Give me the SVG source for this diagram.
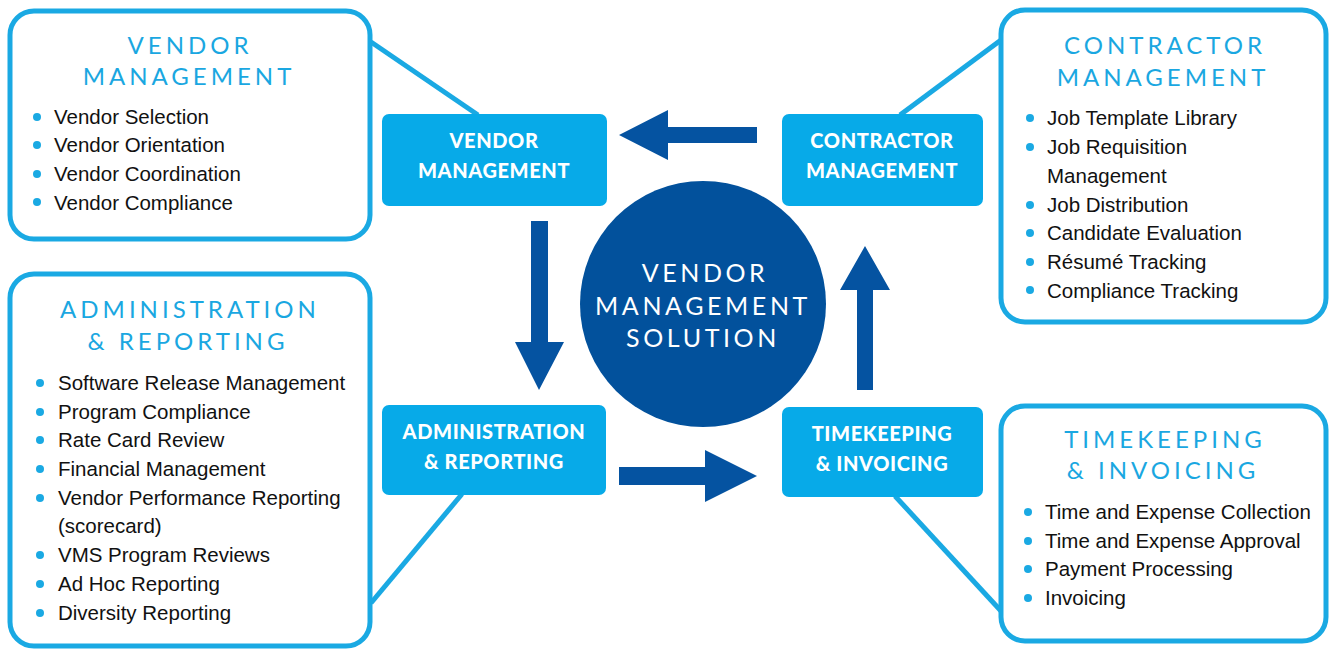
<svg xmlns="http://www.w3.org/2000/svg" width="1330" height="650" viewBox="0 0 1330 650">
<style>
.outer{fill:#fff;stroke:#1aa9e3;stroke-width:5}
.conn{stroke:#1aa9e3;stroke-width:5;fill:none}
.small{fill:#07aae8}
.arrow{fill:#0553a1}
.title{font-family:Lato,"Open Sans",sans-serif;font-size:24px;fill:#1aa7e1;letter-spacing:4px;text-anchor:middle}
.item{font-family:"Liberation Sans",Arial,sans-serif;font-size:20.5px;fill:#111}
.bul{fill:#1aa9e3}
.slab{font-family:Lato,"Open Sans",sans-serif;font-weight:900;font-size:20px;fill:#fff;text-anchor:middle;letter-spacing:0.6px}
.clab{font-family:Lato,"Open Sans",sans-serif;font-size:25px;fill:#fff;text-anchor:middle;letter-spacing:3.6px}
</style>
<g id="connectors">
<line class="conn" x1="371" y1="42" x2="478" y2="115"/>
<line class="conn" x1="1001" y1="40" x2="900" y2="115"/>
<line class="conn" x1="462" y1="494" x2="371" y2="603"/>
<line class="conn" x1="895" y1="496" x2="1001" y2="611"/>
<polygon class="arrow" points="757,127 668,127 668,110 619,135 668,160 668,143 757,143"/>
<polygon class="arrow" points="531,221 548,221 548,342 564,342 539,390 515,342 531,342"/>
<polygon class="arrow" points="619,467 705,467 705,450 757,476 705,502 705,485 619,485"/>
<polygon class="arrow" points="857,390 873,390 873,290 890,290 865,246 840,290 857,290"/>
</g>
<g id="center">
<circle cx="703" cy="304" r="123" fill="#02519c"/>
<text class="clab" x="705" y="282">VENDOR</text>
<text class="clab" x="703" y="315">MANAGEMENT</text>
<text class="clab" x="703" y="347">SOLUTION</text>
</g>
<g id="vm-small">
<rect class="small" x="382" y="114" width="225" height="92" rx="7"/>
<text class="slab" x="494" y="148">VENDOR</text>
<text class="slab" x="494" y="178">MANAGEMENT</text>
</g>
<g id="cm-small">
<rect class="small" x="782" y="114" width="201" height="92" rx="7"/>
<text class="slab" x="882" y="148">CONTRACTOR</text>
<text class="slab" x="882" y="178">MANAGEMENT</text>
</g>
<g id="ar-small">
<rect class="small" x="382" y="405" width="224" height="90" rx="7"/>
<text class="slab" x="494" y="439">ADMINISTRATION</text>
<text class="slab" x="494" y="469">&amp; REPORTING</text>
</g>
<g id="tk-small">
<rect class="small" x="782" y="407" width="201" height="90" rx="7"/>
<text class="slab" x="882" y="441">TIMEKEEPING</text>
<text class="slab" x="882" y="471">&amp; INVOICING</text>
</g>
<g id="vm-detail">
<rect class="outer" x="10" y="11" width="360" height="228" rx="24"/>
<text class="title" x="190" y="54">VENDOR</text>
<text class="title" x="189" y="85">MANAGEMENT</text>
<circle class="bul" cx="37" cy="117" r="4"/><text class="item" x="54" y="124">Vendor Selection</text>
<circle class="bul" cx="37" cy="145" r="4"/><text class="item" x="54" y="152">Vendor Orientation</text>
<circle class="bul" cx="37" cy="174" r="4"/><text class="item" x="54" y="181">Vendor Coordination</text>
<circle class="bul" cx="37" cy="202" r="4"/><text class="item" x="54" y="210">Vendor Compliance</text>
</g>
<g id="cm-detail">
<rect class="outer" x="1001" y="10" width="325" height="312" rx="24"/>
<text class="title" x="1165" y="54">CONTRACTOR</text>
<text class="title" x="1163" y="86">MANAGEMENT</text>
<circle class="bul" cx="1030" cy="118" r="4"/><text class="item" x="1047" y="125">Job Template Library</text>
<circle class="bul" cx="1030" cy="147" r="4"/><text class="item" x="1047" y="154">Job Requisition</text>
<text class="item" x="1047" y="183">Management</text>
<circle class="bul" cx="1030" cy="205" r="4"/><text class="item" x="1047" y="212">Job Distribution</text>
<circle class="bul" cx="1030" cy="233" r="4"/><text class="item" x="1047" y="240">Candidate Evaluation</text>
<circle class="bul" cx="1030" cy="262" r="4"/><text class="item" x="1047" y="269">Résumé Tracking</text>
<circle class="bul" cx="1030" cy="290" r="4"/><text class="item" x="1047" y="298">Compliance Tracking</text>
</g>
<g id="ar-detail">
<rect class="outer" x="10" y="274" width="360" height="372" rx="24"/>
<text class="title" x="190" y="318">ADMINISTRATION</text>
<text class="title" x="188" y="350">&amp; REPORTING</text>
<circle class="bul" cx="40" cy="383" r="4"/><text class="item" x="58" y="390">Software Release Management</text>
<circle class="bul" cx="40" cy="412" r="4"/><text class="item" x="58" y="419">Program Compliance</text>
<circle class="bul" cx="40" cy="440" r="4"/><text class="item" x="58" y="447">Rate Card Review</text>
<circle class="bul" cx="40" cy="469" r="4"/><text class="item" x="58" y="476">Financial Management</text>
<circle class="bul" cx="40" cy="498" r="4"/><text class="item" x="58" y="505">Vendor Performance Reporting</text>
<text class="item" x="58" y="533">(scorecard)</text>
<circle class="bul" cx="40" cy="555" r="4"/><text class="item" x="58" y="562">VMS Program Reviews</text>
<circle class="bul" cx="40" cy="584" r="4"/><text class="item" x="58" y="591">Ad Hoc Reporting</text>
<circle class="bul" cx="40" cy="613" r="4"/><text class="item" x="58" y="620">Diversity Reporting</text>
</g>
<g id="tk-detail">
<rect class="outer" x="1001" y="406" width="325" height="235" rx="24"/>
<text class="title" x="1165" y="448">TIMEKEEPING</text>
<text class="title" x="1163" y="479">&amp; INVOICING</text>
<circle class="bul" cx="1028" cy="512" r="4"/><text class="item" x="1045" y="519">Time and Expense Collection</text>
<circle class="bul" cx="1028" cy="541" r="4"/><text class="item" x="1045" y="548">Time and Expense Approval</text>
<circle class="bul" cx="1028" cy="569" r="4"/><text class="item" x="1045" y="576">Payment Processing</text>
<circle class="bul" cx="1028" cy="598" r="4"/><text class="item" x="1045" y="605">Invoicing</text>
</g>
</svg>
